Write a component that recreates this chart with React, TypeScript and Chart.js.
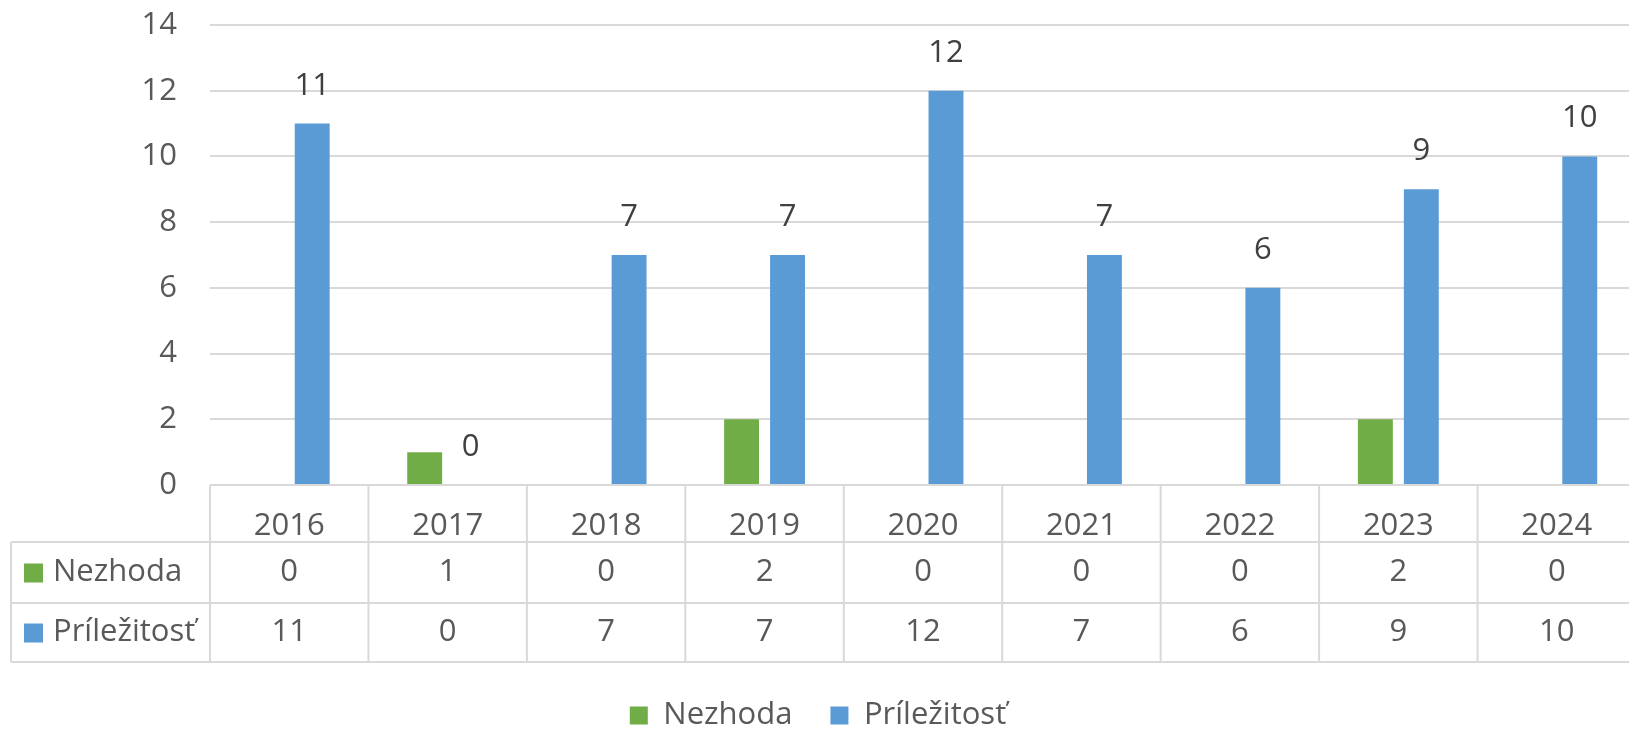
import React, { useEffect, useRef } from "react";
import { Chart, registerables } from "chart.js";

Chart.register(...registerables);

const categories = ["2016", "2017", "2018", "2019", "2020", "2021", "2022", "2023", "2024"];
const nezhoda = [0, 1, 0, 2, 0, 0, 0, 2, 0];
const prilezitost = [11, 0, 7, 7, 12, 7, 6, 9, 10];
const seriesNames = ["Nezhoda", "Príležitosť"];
const seriesColors = ["#70ad47", "#5b9bd5"];
const yTickValues = [0, 2, 4, 6, 8, 10, 12, 14];

const FONT = "'Open Sans', 'Noto Sans', sans-serif";
const FS = 31;
const W = 1640;
const H = 741;
const GRID = "#d9d9d9";
const TXT = "#595959";
const LBL = "#404040";

const tablePlugin = {
  id: "dataTable",
  afterDraw(chart: any) {
    const ctx = chart.ctx;
    const xs = chart.scales.x;
    const ca = chart.chartArea;
    const n = categories.length;
    const cw = (ca.right - ca.left) / n;
    const top = ca.bottom;
    const r1 = top + 57;
    const r2 = r1 + 61;
    const bot = xs.bottom;
    const leftEdge = 11;
    ctx.save();
    ctx.strokeStyle = GRID;
    ctx.lineWidth = 2;
    ctx.beginPath();
    ctx.moveTo(ca.left, top);
    ctx.lineTo(ca.right, top);
    [r1, r2, bot].forEach((y) => {
      ctx.moveTo(leftEdge, y);
      ctx.lineTo(ca.right, y);
    });
    for (let i = 0; i < n; i++) {
      const px = xs.getPixelForValue(i) - cw / 2;
      ctx.moveTo(px, top);
      ctx.lineTo(px, bot);
    }
    const last = xs.getPixelForValue(n - 1) + cw / 2;
    ctx.moveTo(last, top);
    ctx.lineTo(last, bot);
    ctx.moveTo(leftEdge, r1);
    ctx.lineTo(leftEdge, bot);
    ctx.stroke();

    const rows = [
      { name: seriesNames[0], color: seriesColors[0], values: nezhoda, y: (r1 + r2) / 2 },
      { name: seriesNames[1], color: seriesColors[1], values: prilezitost, y: (r2 + bot) / 2 },
    ];
    ctx.font = `${FS}px ${FONT}`;
    ctx.textBaseline = "middle";
    rows.forEach((row) => {
      ctx.fillStyle = row.color;
      ctx.fillRect(24, row.y - 9, 19, 19);
      ctx.fillStyle = TXT;
      ctx.textAlign = "left";
      ctx.fillText(row.name, 53, row.y);
      ctx.textAlign = "center";
      row.values.forEach((v, i) => {
        ctx.fillText(String(v), xs.getPixelForValue(i), row.y);
      });
    });
    ctx.restore();
  },
};

const labelPlugin = {
  id: "barLabels",
  afterDatasetsDraw(chart: any) {
    const ctx = chart.ctx;
    const meta = chart.getDatasetMeta(1);
    const data = chart.data.datasets[1].data;
    ctx.save();
    ctx.font = `${FS}px ${FONT}`;
    ctx.fillStyle = LBL;
    ctx.textAlign = "center";
    ctx.textBaseline = "alphabetic";
    meta.data.forEach((el: any, i: number) => {
      ctx.fillText(String(data[i]), el.x, el.y - 29);
    });
    ctx.restore();
  },
};

export default function App() {
  const ref = useRef<HTMLCanvasElement>(null);
  useEffect(() => {
    if (!ref.current) return;
    const chart = new Chart(ref.current, {
      type: "bar",
      data: {
        labels: categories,
        datasets: [
          {
            label: seriesNames[0],
            data: nezhoda,
            backgroundColor: seriesColors[0],
            borderWidth: 0,
            categoryPercentage: 0.58,
            barPercentage: 0.76,
          },
          {
            label: seriesNames[1],
            data: prilezitost,
            backgroundColor: seriesColors[1],
            borderWidth: 0,
            categoryPercentage: 0.58,
            barPercentage: 0.76,
          },
        ],
      },
      options: {
        responsive: false,
        animation: false,
        events: [],
        layout: { padding: { top: 25, right: 4, left: 0, bottom: 0 } },
        plugins: {
          tooltip: { enabled: false },
          legend: {
            position: "bottom",
            labels: {
              font: { family: FONT, size: FS },
              color: TXT,
              boxWidth: 18,
              boxHeight: 18,
              padding: 38,
            },
          },
        },
        scales: {
          x: {
            grid: { display: false },
            border: { display: false },
            ticks: {
              font: { family: FONT, size: FS },
              color: TXT,
              padding: 15,
            },
            afterFit: (scale: any) => {
              scale.height = 177;
            },
          },
          y: {
            min: 0,
            max: 14,
            grid: {
              color: GRID,
              lineWidth: 2,
              drawTicks: true,
              tickLength: 33,
              tickColor: "rgba(0,0,0,0)",
            },
            border: { display: false },
            afterBuildTicks: (scale: any) => {
              scale.ticks = yTickValues.map((v) => ({ value: v }));
            },
            ticks: {
              font: { family: FONT, size: FS },
              color: TXT,
              padding: 0,
            },
            afterFit: (scale: any) => {
              scale.width = 210;
            },
          },
        },
      },
      plugins: [tablePlugin, labelPlugin],
    });
    return () => chart.destroy();
  }, []);
  return (
    <div
      style={{
        position: "fixed",
        left: 0,
        top: 0,
        width: 1629,
        height: 734,
        overflow: "hidden",
        background: "#ffffff",
      }}
    >
      <canvas ref={ref} width={W} height={H} style={{ display: "block", width: W, height: H }} />
    </div>
  );
}
